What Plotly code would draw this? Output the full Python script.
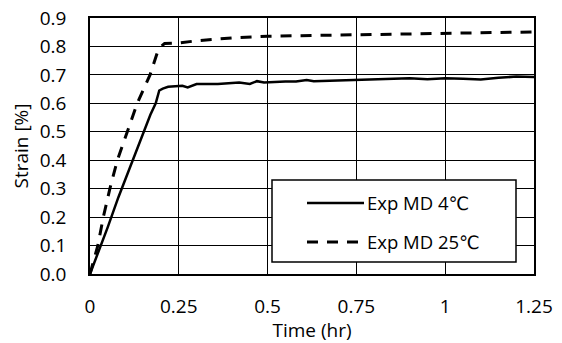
import plotly.graph_objects as go

# Data
t_4c = [0, 0.02, 0.05, 0.08, 0.11, 0.14, 0.17, 0.185, 0.195, 0.205, 0.22, 0.24, 0.26,
        0.275, 0.30, 0.33, 0.36, 0.39, 0.42, 0.45, 0.47, 0.49, 0.52, 0.55, 0.58, 0.61,
        0.63, 0.66, 0.70, 0.75, 0.80, 0.85, 0.90, 0.95, 1.00, 1.05, 1.10, 1.15, 1.20, 1.25]
s_4c = [0, 0.065, 0.165, 0.27, 0.365, 0.46, 0.56, 0.60, 0.645, 0.652, 0.658, 0.66, 0.662,
        0.656, 0.668, 0.668, 0.668, 0.671, 0.673, 0.668, 0.678, 0.673, 0.676, 0.677, 0.677,
        0.682, 0.678, 0.679, 0.680, 0.683, 0.684, 0.686, 0.688, 0.685, 0.688, 0.686, 0.684,
        0.690, 0.694, 0.693]

t_25c = [0, 0.01, 0.022, 0.0375, 0.056, 0.077, 0.106, 0.133, 0.169, 0.19, 0.20, 0.21,
         0.25, 0.30, 0.35, 0.40, 0.50, 0.60, 0.70, 0.80, 0.90, 1.00, 1.10, 1.20, 1.25]
s_25c = [0, 0.05, 0.10, 0.20, 0.30, 0.40, 0.50, 0.60, 0.70, 0.78, 0.80, 0.81,
         0.812, 0.82, 0.825, 0.83, 0.836, 0.838, 0.841, 0.843, 0.845, 0.846, 0.848, 0.850, 0.851]

x_tickvals = [0, 0.25, 0.5, 0.75, 1, 1.25]
x_ticktext = ["0", "0.25", "0.5", "0.75", "1", "1.25"]
y_tickvals = [0, 0.1, 0.2, 0.3, 0.4, 0.5, 0.6, 0.7, 0.8, 0.9]

names = ["Exp MD 4\u2103", "Exp MD 25\u2103"]

FONT = "Open Sans, Lato, DejaVu Sans"
FS = 19

fig = go.Figure()
fig.add_trace(go.Scatter(x=t_4c, y=s_4c, mode="lines", name=names[0],
                         line=dict(color="black", width=2.5), showlegend=False))
fig.add_trace(go.Scatter(x=t_25c, y=s_25c, mode="lines", name=names[1],
                         line=dict(color="black", width=3, dash="11px,9px"), showlegend=False))

# Manual legend (box, line samples, labels) in paper coordinates
W, H = 562, 343
ml, mr, mt, mb = 90, 28, 18, 69
pw, ph = W - ml - mr, H - mt - mb
def px(x): return (x - ml) / pw
def py(y): return (H - mb - y) / ph

fig.add_shape(type="rect", xref="paper", yref="paper",
              x0=px(272), x1=px(516), y0=py(262), y1=py(180),
              line=dict(color="black", width=1.5), fillcolor="white", layer="above")
fig.add_shape(type="line", xref="paper", yref="paper",
              x0=px(307), x1=px(364), y0=py(203), y1=py(203),
              line=dict(color="black", width=2.5), layer="above")
fig.add_shape(type="line", xref="paper", yref="paper",
              x0=px(307), x1=px(366), y0=py(242), y1=py(242),
              line=dict(color="black", width=3, dash="11px,9px"), layer="above")
for yy, nm in zip([202, 241], names):
    fig.add_annotation(xref="paper", yref="paper", x=px(365), y=py(yy),
                       text=nm, showarrow=False, xanchor="left", yanchor="middle",
                       font=dict(family=FONT, size=18.5, color="black"))

fig.update_layout(
    width=W, height=H,
    margin=dict(l=ml, r=mr, t=mt, b=mb),
    paper_bgcolor="white", plot_bgcolor="white",
    font=dict(family=FONT, size=FS, color="black"),
)
fig.update_xaxes(range=[0, 1.25], tickvals=x_tickvals, ticktext=x_ticktext,
                 showgrid=True, gridcolor="black", gridwidth=1.3,
                 showline=True, linecolor="black", linewidth=2, mirror=True,
                 zeroline=False, ticks="", ticklabelstandoff=14, automargin=False,
                 title=dict(text="Time (hr)", standoff=6, font=dict(size=FS)))
fig.update_yaxes(range=[0, 0.9], tickvals=y_tickvals, tickformat=".1f",
                 showgrid=True, gridcolor="black", gridwidth=1.3,
                 showline=True, linecolor="black", linewidth=1.5, mirror=True,
                 zeroline=False, ticks="", ticklabelstandoff=18, automargin=False,
                 title=dict(text="Strain [%]", standoff=6, font=dict(size=FS)))

fig.write_html("out.html")
